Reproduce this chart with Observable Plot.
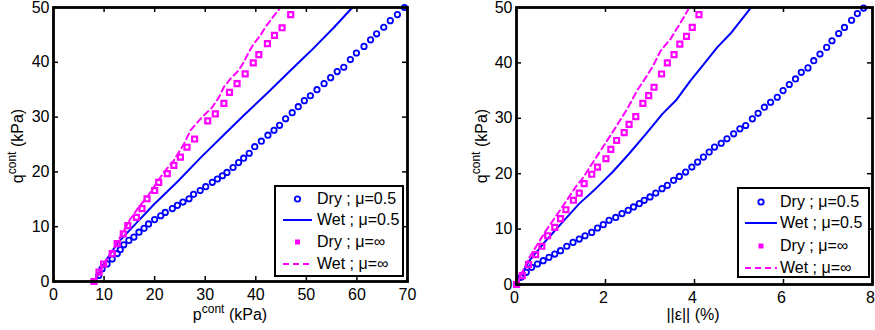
<!DOCTYPE html>
<html><head><meta charset="utf-8">
<script src="https://cdn.jsdelivr.net/npm/d3@7"></script>
<script src="https://cdn.jsdelivr.net/npm/@observablehq/plot@0.6"></script>
<style>
body{margin:0;background:#fff;}
#wrap{position:relative;width:875px;height:330px;font-family:"Liberation Sans",Arial,Helvetica,sans-serif;color:#000;}
.panel{position:absolute;top:0;}
.lbl{position:absolute;font-size:16px;white-space:nowrap;line-height:1;}
.lbl sup{font-size:12px;vertical-align:0;position:relative;top:-7px;}
.legend{position:absolute;border:2px solid #000;background:#fff;box-sizing:border-box;}
.row{position:absolute;font-size:16px;white-space:nowrap;line-height:1;}
</style></head>
<body><div id="wrap"></div>
<script>
// ---------- data ----------
const yTicks = [0, 10, 20, 30, 40, 50];
const xTicksLeft = [0, 10, 20, 30, 40, 50, 60, 70];
const xTicksRight = [0, 2, 4, 6, 8];
const legendLabels = ["Dry ; \u03bc=0.5", "Wet ; \u03bc=0.5", "Dry ; \u03bc=\u221e", "Wet ; \u03bc=\u221e"];

// left panel: [p_cont (kPa), q_cont (kPa)]
const leftDry05 = [[8,0],[8.96,1.1],[9.6,2.3],[10.6,3.2],[11.6,4.1],[12.6,5.1],[13.2,5.8],[13.9,6.7],[14.9,7.5],[15.9,8.1],[16.9,9.0],[17.9,9.7],[18.8,10.5],[20.0,11.3],[21.2,12.0],[22.1,12.6],[23.5,13.3],[24.5,13.9],[25.6,14.5],[26.8,15.1],[27.7,15.9],[29.0,16.6],[30.1,17.3],[31.4,18.1],[32.4,18.7],[33.4,19.3],[34.3,19.9],[35.5,20.8],[36.6,21.7],[37.6,22.5],[38.7,23.4],[39.8,24.6],[41.1,25.6],[42.4,26.7],[43.6,27.6],[44.7,28.5],[45.9,29.7],[47.2,30.8],[48.4,31.9],[49.6,33.0],[50.8,33.9],[52.1,35.0],[53.5,36.1],[54.8,37.2],[56.1,38.3],[57.4,39.1],[58.7,40.5],[59.9,41.7],[61.4,42.9],[62.7,44.1],[63.9,45.2],[65.3,46.4],[66.6,47.6],[68.0,48.7],[69.4,50.0]];
const leftWet05 = [[8,0],[8.6,0.8],[9.9,3.2],[12.6,6.9],[15.9,10.2],[19.8,14.0],[24.5,18.2],[29.1,22.6],[33.6,26.7],[37.6,30.3],[42.3,34.4],[46.5,38.2],[50.8,42.0],[55.4,46.3],[59.1,50]];
const leftDryInf = [[8,0],[9,1.7],[9.9,3.2],[11.6,5.1],[12.6,6.9],[13.8,8.7],[14.7,10.2],[16.4,11.7],[17.5,13.3],[18.5,15.1],[20,16.6],[20.8,18.1],[22.5,19.7],[23.8,21.2],[25.1,22.7],[26.4,24.5],[27.9,26],[30.5,29.3],[32,30.6],[33.7,32.5],[34.8,34.5],[36.3,36.1],[37.9,37.9],[39.5,39.9],[40.6,41.4],[42.3,43.4],[43.7,44.9],[45.2,46.3],[46.9,48.7]];
const leftWetInf = [[8,0],[9,1.7],[11.3,5.1],[13.2,8.1],[15.2,11.4],[16.9,13.6],[18.5,15.4],[19.8,17.2],[21.8,19.9],[23.8,22.1],[25.8,25.1],[27.1,27.6],[29.4,30.0],[31.4,31.8],[32.7,33.6],[33.7,35.5],[35,37],[36.6,38.5],[37.6,40],[38.6,41.8],[39.6,43.4],[40.9,44.9],[41.9,46.4],[43.6,48.5],[44.9,50]];

// right panel: [||eps|| (%), q_cont (kPa)]
const rightDry05 = [[0,0],[0.10,1.3],[0.22,2.2],[0.34,3.1],[0.47,3.7],[0.60,4.3],[0.73,4.9],[0.86,5.5],[0.99,6.1],[1.13,6.9],[1.27,7.6],[1.41,8.2],[1.54,8.8],[1.69,9.4],[1.82,10.2],[1.95,10.8],[2.08,11.6],[2.23,12.1],[2.37,12.8],[2.51,13.4],[2.63,14.0],[2.76,14.6],[2.87,15.2],[3.00,15.8],[3.13,16.5],[3.27,17.3],[3.39,17.9],[3.53,18.8],[3.66,19.5],[3.80,20.3],[3.94,21.2],[4.07,22.1],[4.20,23.0],[4.33,23.9],[4.45,24.8],[4.60,25.5],[4.73,26.3],[4.88,27.2],[5.02,28.1],[5.15,28.7],[5.30,29.9],[5.43,30.9],[5.57,32.0],[5.71,32.9],[5.86,33.8],[5.99,35.0],[6.13,36.1],[6.27,37.1],[6.40,38.3],[6.55,39.1],[6.68,40.4],[6.82,41.6],[6.97,42.8],[7.09,44.0],[7.24,45.3],[7.37,46.4],[7.53,47.7],[7.66,48.9],[7.80,49.9]];
const rightWet05 = [[0,0],[0.02,0.7],[0.29,4.3],[0.66,7.9],[1.03,11.2],[1.41,14.6],[1.78,17.3],[2.16,20.3],[2.53,23.6],[2.91,27.2],[3.28,30.8],[3.58,33.2],[3.91,36.8],[4.21,39.8],[4.51,42.8],[4.81,45.3],[5.26,49.9]];
const rightDryInf = [[0,0],[0.13,1.6],[0.27,3.6],[0.43,5.4],[0.57,6.9],[0.70,8.8],[0.86,10.3],[0.99,11.9],[1.11,13.5],[1.28,15.2],[1.41,16.5],[1.52,18.2],[1.69,19.9],[1.82,21.2],[2.01,22.7],[2.12,24.4],[2.25,26.0],[2.42,27.4],[2.53,28.9],[2.68,30.3],[2.84,32.7],[2.97,34.1],[3.09,35.6],[3.26,38.0],[3.39,40.0],[3.54,41.5],[3.67,43.4],[3.82,44.8],[3.95,46.4],[4.10,48.7]];
const rightWetInf = [[0,0],[0.29,4.9],[0.66,9.7],[1.03,14.0],[1.33,17.6],[1.48,19.1],[1.82,23.3],[2.16,27.5],[2.49,31.7],[2.71,35.0],[2.86,36.8],[3.05,39.2],[3.24,42.2],[3.46,44.3],[3.69,47.3],[3.87,49.8]];

const BLUE = "#0000ff", MAG = "#ff00ff";
const FONT = '"Liberation Sans", Arial, Helvetica, sans-serif';

function panel({width, ml, mr, mt, mb, xDomain, xTicks, xLabelDx, dry05, wet05, dryInf, wetInf}) {
  const height = 330;
  const innerH = height - mt - mb, innerW = width - ml - mr;
  const X = d => d[0], Y = d => d[1];
  return Plot.plot({
    width, height, marginLeft: ml, marginRight: mr, marginTop: mt, marginBottom: mb,
    style: {fontFamily: FONT, fontSize: "16px", color: "#000", background: "transparent", overflow: "visible"},
    x: {domain: xDomain},
    y: {domain: [0, 50]},
    marks: [
      Plot.dot(dry05, {x: X, y: Y, r: 2.7, stroke: BLUE, strokeWidth: 1.8, fill: "none"}),
      Plot.line(wet05, {x: X, y: Y, stroke: BLUE, strokeWidth: 2}),
      Plot.dot(dryInf, {x: X, y: Y, symbol: "square", r: 2.8, stroke: MAG, strokeWidth: 2.2, fill: "none"}),
      Plot.line(wetInf, {x: X, y: Y, stroke: MAG, strokeWidth: 2, strokeDasharray: "6,4"}),
      Plot.tickX(xTicks, {x: d => d, insetTop: innerH - 5, stroke: "#000", strokeWidth: 1.5}),
      Plot.tickX(xTicks, {x: d => d, insetBottom: innerH - 5, stroke: "#000", strokeWidth: 1.5}),
      Plot.tickY(yTicks, {y: d => d, insetRight: innerW - 5, stroke: "#000", strokeWidth: 1.5}),
      Plot.tickY(yTicks, {y: d => d, insetLeft: innerW - 5, stroke: "#000", strokeWidth: 1.5}),
      Plot.axisX(xTicks, {tickSize: 0, tickPadding: 7, label: null, fontSize: 16, dx: xLabelDx, tickFormat: d => String(d)}),
      Plot.axisY(yTicks, {tickSize: 0, tickPadding: 4, label: null, fontSize: 16, tickFormat: d => String(d)}),
      Plot.frame({stroke: "#000", strokeWidth: 2.8})
    ]
  });
}

const wrap = document.getElementById("wrap");

function place(el, left) { el.classList.add("panel"); el.style.left = left + "px"; wrap.appendChild(el); }

place(panel({width: 430, ml: 53, mr: 23, mt: 7, mb: 49, xDomain: [0, 70], xTicks: xTicksLeft, xLabelDx: 0,
  dry05: leftDry05, wet05: leftWet05, dryInf: leftDryInf, wetInf: leftWetInf}), 0);
place(panel({width: 435, ml: 76, mr: 3, mt: 7, mb: 46, xDomain: [0, 8], xTicks: xTicksRight, xLabelDx: -2,
  dry05: rightDry05, wet05: rightWet05, dryInf: rightDryInf, wetInf: rightWetInf}), 440);

// axis titles
function label(html, cx, cy, rotate) {
  const d = document.createElement("div");
  d.className = "lbl";
  d.innerHTML = html;
  d.style.left = cx + "px";
  d.style.top = cy + "px";
  d.style.transform = "translate(-50%,-50%)" + (rotate ? " rotate(-90deg)" : "");
  wrap.appendChild(d);
}
label("p<sup>cont</sup> (kPa)", 230, 315, false);
label("q<sup>cont</sup> (kPa)", 18, 146, true);
label("||\u03b5|| (%)", 693, 315, false);
label("q<sup>cont</sup> (kPa)", 482, 146, true);

// legends
function legend(left, top, w, h, symX0, symX1, textX, rowYs) {
  const box = document.createElement("div");
  box.className = "legend";
  Object.assign(box.style, {left: left + "px", top: top + "px", width: w + "px", height: h + "px"});
  const kinds = ["circle", "solid", "square", "dash"];
  kinds.forEach((k, i) => {
    const cy = rowYs[i];
    const svgNS = "http://www.w3.org/2000/svg";
    const svg = document.createElementNS(svgNS, "svg");
    svg.setAttribute("width", symX1 - symX0 + 4);
    svg.setAttribute("height", 12);
    svg.style.position = "absolute";
    svg.style.left = (symX0 - 2) + "px";
    svg.style.top = (cy - 6) + "px";
    const mid = (symX1 - symX0) / 2 + 2;
    let s;
    if (k === "circle") {
      s = document.createElementNS(svgNS, "circle");
      s.setAttribute("cx", mid); s.setAttribute("cy", 6); s.setAttribute("r", 2.7);
      s.setAttribute("fill", "none"); s.setAttribute("stroke", BLUE); s.setAttribute("stroke-width", 1.8);
    } else if (k === "square") {
      s = document.createElementNS(svgNS, "rect");
      s.setAttribute("x", mid - 2.5); s.setAttribute("y", 3.5); s.setAttribute("width", 5); s.setAttribute("height", 5);
      s.setAttribute("fill", MAG);
    } else {
      s = document.createElementNS(svgNS, "line");
      s.setAttribute("x1", 2); s.setAttribute("x2", symX1 - symX0 + 2); s.setAttribute("y1", 6); s.setAttribute("y2", 6);
      s.setAttribute("stroke", k === "solid" ? BLUE : MAG); s.setAttribute("stroke-width", 2);
      if (k === "dash") s.setAttribute("stroke-dasharray", "6,4");
    }
    svg.appendChild(s);
    box.appendChild(svg);
    const t = document.createElement("div");
    t.className = "row";
    t.textContent = legendLabels[i];
    t.style.left = textX + "px";
    t.style.top = (cy - 8) + "px";
    box.appendChild(t);
  });
  wrap.appendChild(box);
}
legend(274, 185, 130, 92, 7, 36, 41, [12, 33, 55, 77]);
legend(737, 187, 133, 91, 6, 38, 41, [13, 34, 57, 79]);
</script>
</body></html>
